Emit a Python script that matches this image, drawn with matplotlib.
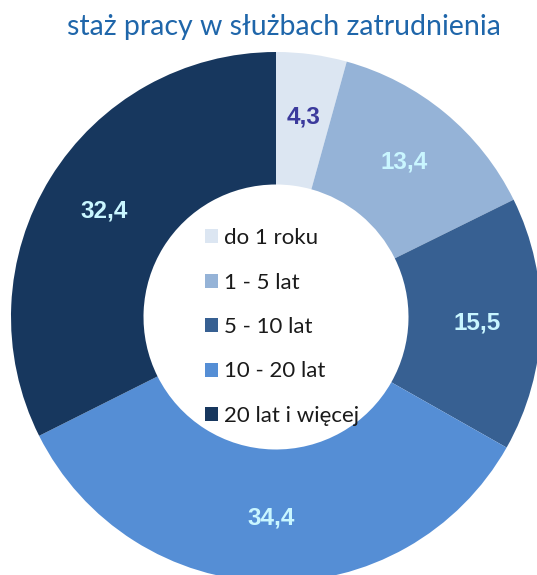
import matplotlib
matplotlib.use("Agg")
import matplotlib.pyplot as plt

TITLE = "staż pracy w służbach zatrudnienia"
CATEGORIES = ["do 1 roku", "1 - 5 lat", "5 - 10 lat", "10 - 20 lat", "20 lat i więcej"]
VALUES = [4.3, 13.4, 15.5, 34.4, 32.4]
COLORS = ["#dce6f2", "#95b3d7", "#376092", "#558ed5", "#17375e"]
LABEL_COLORS = ["#3b3a9c", "#c9f6ff", "#c9f6ff", "#c9f6ff", "#c9f6ff"]

plt.rcParams["font.family"] = ["Lato", "DejaVu Sans"]

fig = plt.figure(figsize=(5.37, 5.75), dpi=100)
ax = fig.add_axes([0, 0, 1, 1])

# 265 px per data unit, donut centre at pixel (276, 317)
R = 265.0
cx, cy = 276.0, 317.0

wedges, _, autotexts = ax.pie(
    VALUES,
    colors=COLORS,
    startangle=90,
    counterclock=False,
    radius=1.0,
    wedgeprops={"width": 0.5, "edgecolor": "none"},
    autopct=lambda p: f"{p:.1f}".replace(".", ","),
    pctdistance=0.76,
)
for t, c in zip(autotexts, LABEL_COLORS):
    t.set_color(c)
    t.set_fontsize(17.5)
    t.set_fontweight("bold")
    t.set_family(["Liberation Sans", "DejaVu Sans"])

ax.set_aspect("auto")
ax.set_xlim(-cx / R, (537 - cx) / R)
ax.set_ylim((cy - 575) / R, cy / R)
ax.axis("off")

fig.text(284 / 537, 1 - 27 / 575, TITLE, ha="center", va="center",
         fontsize=20.5, color="#1f66aa")

ax.legend(
    wedges, CATEGORIES,
    loc="center",
    bbox_to_anchor=(282 / 537, 1 - 327 / 575),
    bbox_transform=fig.transFigure,
    frameon=False,
    fontsize=16,
    handlelength=0.6,
    handleheight=0.6,
    handletextpad=0.25,
    labelspacing=1.1,
    labelcolor="#1a1a1a",
)

fig.savefig("out.png", dpi=100)
